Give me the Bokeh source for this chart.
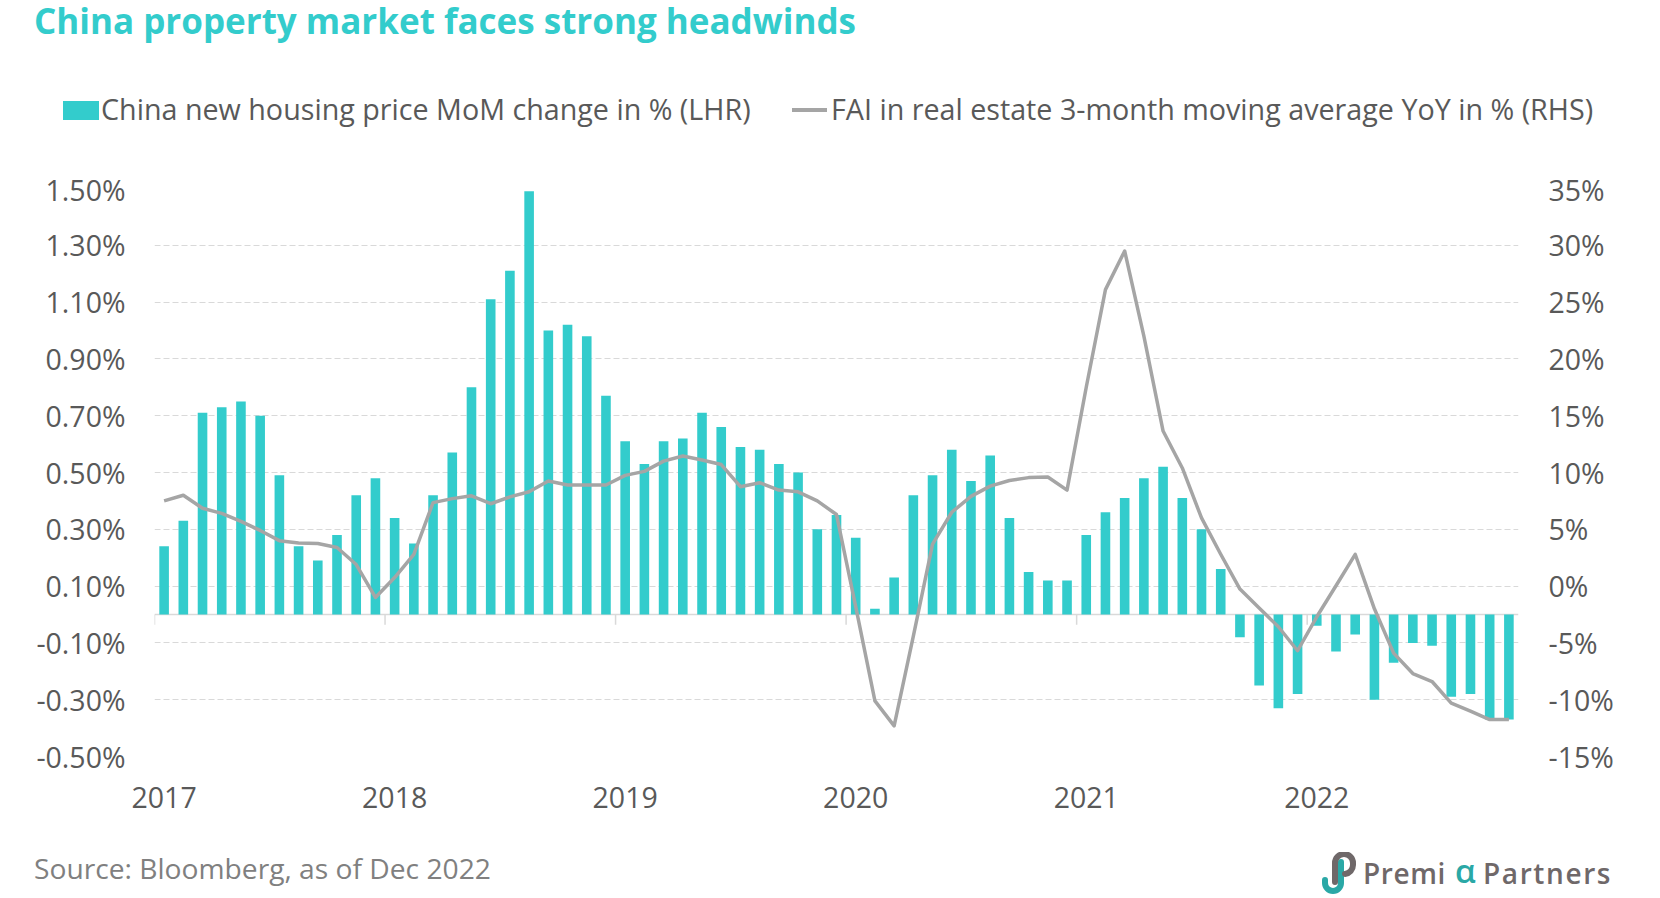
import numpy as np
from bokeh.plotting import figure
from bokeh.layouts import column
from bokeh.models import (Range1d, LinearAxis, FixedTicker, PrintfTickFormatter, Span, Div)
from bokeh.embed import file_html
from bokeh.resources import INLINE

# ---------------- data ----------------
years = ["2017", "2018", "2019", "2020", "2021", "2022"]
months_per_year = 12

housing_mom = [
    0.24, 0.33, 0.71, 0.73, 0.75, 0.70, 0.49, 0.24, 0.19, 0.28, 0.42, 0.48,   # 2017
    0.34, 0.25, 0.42, 0.57, 0.80, 1.11, 1.21, 1.49, 1.00, 1.02, 0.98, 0.77,   # 2018
    0.61, 0.53, 0.61, 0.62, 0.71, 0.66, 0.59, 0.58, 0.53, 0.50, 0.30, 0.35,   # 2019
    0.27, 0.02, 0.13, 0.42, 0.49, 0.58, 0.47, 0.56, 0.34, 0.15, 0.12, 0.12,   # 2020
    0.28, 0.36, 0.41, 0.48, 0.52, 0.41, 0.30, 0.16, -0.08, -0.25, -0.33, -0.28,  # 2021
    -0.04, -0.13, -0.07, -0.30, -0.17, -0.10, -0.11, -0.29, -0.28, -0.37, -0.37,  # 2022
]

fai_3m_yoy = [
    7.5, 8.0, 6.85, 6.4, 5.7, 4.9, 4.0, 3.8, 3.75, 3.4, 1.9, -1.0,            # 2017
    0.75, 2.8, 7.35, 7.7, 7.95, 7.25, 7.85, 8.3, 9.25, 8.9, 8.9, 8.9,          # 2018
    9.75, 10.1, 11.0, 11.45, 11.1, 10.7, 8.75, 9.1, 8.45, 8.3, 7.5, 6.3,       # 2019
    -1.8, -10.1, -12.3, -4.4, 3.7, 6.5, 7.9, 8.8, 9.3, 9.55, 9.6, 8.45,        # 2020
    17.5, 26.1, 29.5, 22.0, 13.65, 10.4, 6.0, 2.8, -0.26, -1.93, -3.58, -5.69, # 2021
    -2.7, 0.03, 2.8, -2.0, -5.9, -7.7, -8.4, -10.3, -11.0, -11.75, -11.75,     # 2022
]

left_ticks = [-0.5, -0.3, -0.1, 0.1, 0.3, 0.5, 0.7, 0.9, 1.1, 1.3, 1.5]
right_ticks = [-15, -10, -5, 0, 5, 10, 15, 20, 25, 30, 35]

title_text = "China property market faces strong headwinds"
legend_bar = "China new housing price MoM change in % (LHR)"
legend_line = "FAI in real estate 3-month moving average YoY in % (RHS)"
source_text = "Source: Bloomberg, as of Dec 2022"
logo_parts = ["Premi", "\u03b1", "Partners"]

# ---------------- styling ----------------
TEAL = "#33CCCC"
GREY_LINE = "#A5A5A5"
TXT = "#595959"
GRID = "#D9D9D9"
FONT = "Open Sans"
LOGO_GREY = "#6F6869"
LOGO_TEAL = "#2AA8A6"

W = 1650
HEAD_H = 170
CHART_H = 660
FOOT_H = 66


def span(text, left, top, size, color, weight="normal", lh=40, extra=""):
    return (f'<span style="position:absolute; left:{left}px; top:{top}px; white-space:nowrap; '
            f'font-family:\'{FONT}\'; font-size:{size}px; line-height:{lh}px; font-weight:{weight}; '
            f'color:{color}; {extra}">{text}</span>')


def box(left, top, width, height, color):
    return (f'<div style="position:absolute; left:{left}px; top:{top}px; width:{width}px; '
            f'height:{height}px; background:{color};"></div>')


# ---------------- header (title + legend) ----------------
head_html = (
    f'<div style="position:relative; width:{W}px; height:{HEAD_H}px; overflow:hidden;">'
    + span(title_text, 34, 0, 35, TEAL, weight="bold", lh=42)
    + box(62.5, 100.5, 36, 19, TEAL)
    + span(legend_bar, 101, 89, 28.7, TXT)
    + box(792, 108.3, 35, 3.5, GREY_LINE)
    + span(legend_line, 831, 89, 28.7, TXT)
    + '</div>'
)
head = Div(text=head_html, width=W, height=HEAD_H, margin=0, disable_math=True)

# ---------------- chart ----------------
n = len(housing_mom)
xs = np.arange(n) + 0.5
year_starts = [i * months_per_year for i in range(len(years))]
year_label_pos = [s + 0.5 for s in year_starts]

FRAME_L, FRAME_R, FRAME_T, FRAME_B = 154, 1518, 188, 756
p = figure(width=W, height=CHART_H, output_backend="svg", toolbar_location=None, title=None,
           x_range=Range1d(0, n), y_range=Range1d(left_ticks[0], left_ticks[-1]),
           min_border_left=FRAME_L, min_border_right=W - FRAME_R,
           min_border_top=FRAME_T - HEAD_H, min_border_bottom=HEAD_H + CHART_H - FRAME_B)
p.extra_y_ranges = {"right": Range1d(right_ticks[0], right_ticks[-1])}
p.outline_line_color = None
p.background_fill_color = "white"
p.border_fill_color = "white"

la = p.yaxis[0]
la.ticker = FixedTicker(ticks=left_ticks)
la.formatter = PrintfTickFormatter(format="%.2f%%")
ra = LinearAxis(y_range_name="right", ticker=FixedTicker(ticks=right_ticks),
                formatter=PrintfTickFormatter(format="%d%%"))
p.add_layout(ra, "right")
xa = p.xaxis[0]
xa.ticker = FixedTicker(ticks=year_label_pos)
xa.major_label_overrides = {pos: y for pos, y in zip(year_label_pos, years)}

for ax in (la, ra, xa):
    ax.axis_line_color = None
    ax.major_tick_line_color = None
    ax.minor_tick_line_color = None
    ax.major_tick_out = 0
    ax.major_tick_in = 0
    ax.minor_tick_out = 0
    ax.major_label_text_font = FONT
    ax.major_label_text_font_size = "28.5px"
    ax.major_label_text_color = TXT
la.major_label_standoff = 29
ra.major_label_standoff = 30
xa.major_label_standoff = 30

p.xgrid.visible = False
p.ygrid.ticker = FixedTicker(ticks=left_ticks)
p.ygrid.grid_line_color = GRID
p.ygrid.grid_line_dash = "6 3"
p.ygrid.grid_line_width = 1

p.add_layout(Span(location=0, dimension="width", line_color=GRID, line_width=1.5, level="underlay"))
p.segment(x0=year_starts, y0=[0] * len(year_starts), x1=year_starts,
          y1=[-0.036] * len(year_starts), line_color=GRID, line_width=1.5)

p.vbar(x=xs, top=housing_mom, bottom=0, width=0.5, fill_color=TEAL, line_color=None)
p.line(x=xs, y=fai_3m_yoy, y_range_name="right", line_color=GREY_LINE, line_width=3.5,
       line_join="round")

# ---------------- footer (source + logo) ----------------
icon_svg = (
    '<svg style="position:absolute; left:1321px; top:22px;" width="40" height="44" '
    'viewBox="0 0 40 44" xmlns="http://www.w3.org/2000/svg">'
    f'<path d="M20 10 L20 31 A8 8 0 0 1 4 31 L4 28" fill="none" stroke="{LOGO_TEAL}" '
    'stroke-width="6" stroke-linecap="round"/>'
    f'<path d="M14 30 L14 11 A9 9 0 0 1 32 11 L32 13 A9 9 0 0 1 24 22" fill="none" '
    f'stroke="{LOGO_GREY}" stroke-width="6" stroke-linecap="round"/>'
    '</svg>'
)
foot_html = (
    f'<div style="position:relative; width:{W}px; height:{FOOT_H}px; overflow:hidden;">'
    + span(source_text, 34, 18, 28.2, "#808080")
    + icon_svg
    + span(logo_parts[0], 1363, 22.5, 28, LOGO_GREY, weight="600", extra="letter-spacing:0.6px;")
    + span(logo_parts[1], 1455, 20.5, 33, LOGO_TEAL, weight="600")
    + span(logo_parts[2], 1483, 22.5, 28, LOGO_GREY, weight="600", extra="letter-spacing:1.6px;")
    + '</div>'
)
foot = Div(text=foot_html, width=W, height=FOOT_H, margin=0, disable_math=True)

layout = column(head, p, foot, spacing=0)
open("out.html", "w").write(file_html(layout, INLINE))
